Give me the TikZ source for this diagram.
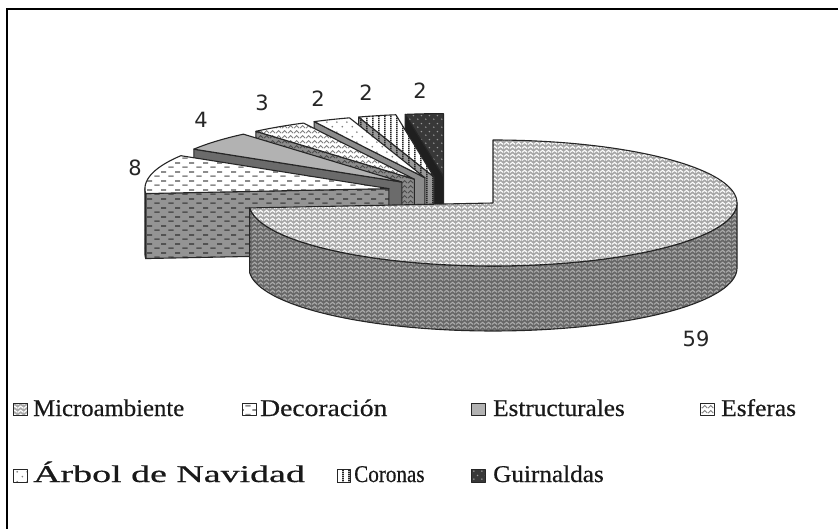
\documentclass[tikz,border=0pt]{standalone}
\usepackage{fontspec}
\setmainfont{Liberation Serif}
\newfontfamily\legfont[FakeBold=0.5]{Liberation Serif}
\newfontfamily\numfont{DejaVu Sans}
\usetikzlibrary{patterns}

\pgfdeclarepatternformonly{herring}{\pgfqpoint{0pt}{0pt}}{\pgfqpoint{6pt}{4pt}}{\pgfqpoint{6pt}{4pt}}{%
  \pgfsetlinewidth{1.3pt}%
  \pgfpathmoveto{\pgfqpoint{0pt}{0.7pt}}%
  \pgfpathlineto{\pgfqpoint{3pt}{3.3pt}}%
  \pgfpathlineto{\pgfqpoint{6pt}{0.7pt}}%
  \pgfusepath{stroke}}
\pgfdeclarepatternformonly{dashes}{\pgfqpoint{0pt}{0pt}}{\pgfqpoint{14pt}{9pt}}{\pgfqpoint{14pt}{9pt}}{%
  \pgfsetlinewidth{1.8pt}%
  \pgfpathmoveto{\pgfqpoint{0.5pt}{2pt}}\pgfpathlineto{\pgfqpoint{6pt}{2pt}}%
  \pgfpathmoveto{\pgfqpoint{7.5pt}{6.5pt}}\pgfpathlineto{\pgfqpoint{13pt}{6.5pt}}%
  \pgfusepath{stroke}}
\pgfdeclarepatternformonly{wave}{\pgfqpoint{0pt}{0pt}}{\pgfqpoint{6pt}{5pt}}{\pgfqpoint{6pt}{5pt}}{%
  \pgfsetlinewidth{1pt}%
  \pgfpathmoveto{\pgfqpoint{0pt}{1pt}}%
  \pgfpathlineto{\pgfqpoint{3pt}{4pt}}%
  \pgfpathlineto{\pgfqpoint{6pt}{1pt}}%
  \pgfusepath{stroke}}
\pgfdeclarepatternformonly{sdots}{\pgfqpoint{0pt}{0pt}}{\pgfqpoint{10pt}{10pt}}{\pgfqpoint{10pt}{10pt}}{%
  \pgfpathcircle{\pgfqpoint{2.5pt}{2.5pt}}{1pt}%
  \pgfpathcircle{\pgfqpoint{7.5pt}{7.5pt}}{1pt}%
  \pgfusepath{fill}}
\pgfdeclarepatternformonly{gdots}{\pgfqpoint{0pt}{0pt}}{\pgfqpoint{8pt}{8pt}}{\pgfqpoint{8pt}{8pt}}{%
  \pgfpathcircle{\pgfqpoint{2pt}{2pt}}{0.9pt}%
  \pgfpathcircle{\pgfqpoint{6pt}{6pt}}{0.9pt}%
  \pgfusepath{fill}}
\pgfdeclarepatternformonly{vstripes}{\pgfqpoint{0pt}{0pt}}{\pgfqpoint{6pt}{2pt}}{\pgfqpoint{6pt}{2pt}}{%
  \pgfpathrectangle{\pgfqpoint{0pt}{0pt}}{\pgfqpoint{2pt}{2pt}}%
  \pgfusepath{fill}}

\definecolor{mtopbg}{HTML}{A8A8A8}
\definecolor{msidebg}{HTML}{686868}
\definecolor{msideln}{HTML}{ABABAB}

\tikzset{
  edge/.style={draw=black!85, line width=1.1pt, line join=round},
  mtop/.style={edge, preaction={fill=mtopbg}, pattern=herring, pattern color=white},
  mside/.style={edge, preaction={fill=msidebg}, pattern=herring, pattern color=msideln},
  dtop/.style={edge, preaction={fill=white}, pattern=dashes, pattern color=black!45},
  dcut/.style={edge, preaction={fill=black!42}, pattern=dashes, pattern color=black!68},
  etop/.style={edge, fill=black!30},
  ecut/.style={edge, fill=black!58},
  ftop/.style={edge, preaction={fill=white}, pattern=wave, pattern color=black!50},
  fcut/.style={edge, preaction={fill=black!45}, pattern=wave, pattern color=black!70},
  atop/.style={edge, preaction={fill=white}, pattern=sdots, pattern color=black!50},
  acut/.style={edge, fill=black!45},
  ctop/.style={edge, preaction={fill=white}, pattern=vstripes, pattern color=black!85},
  ccut/.style={edge, preaction={fill=black!40}, pattern=vstripes, pattern color=black!85},
  gtop/.style={edge, preaction={fill=black!78}, pattern=gdots, pattern color=black!40},
  gcut/.style={edge, fill=black!88},
  numlab/.style={font=\numfont\fontsize{21}{21}\selectfont, inner sep=0pt, text=black!85},
  leglab/.style={font=\legfont\fontsize{24}{24}\selectfont, inner sep=0pt, anchor=base west, text=black!90},
  icon/.style={line width=0.9pt}
}

% small exploded slice: #1 start angle, #2 end angle, #3 top style, #4 cut style
\newcommand\smallslice[4]{%
  \pgfmathsetmacro\bis{(#1+#2)/2}%
  \pgfmathsetmacro\scx{448.25+61*cos(\bis)}%
  \pgfmathsetmacro\scy{192.3-15.75*sin(\bis)}%
  \pgfmathsetmacro\spx{\scx+244*cos(#2)}%
  \pgfmathsetmacro\spy{\scy-63*sin(#2)}%
  \path[#4] (\scx,\scy) -- (\spx,\spy) -- (\spx,\spy+65) -- (\scx,\scy+65) -- cycle;
  \path[#3] (\scx,\scy) -- plot[domain=#1:#2, samples=30] ({\scx+244*cos(\x)},{\scy-63*sin(\x)}) -- cycle;
}

\begin{document}
\begin{tikzpicture}[x=1pt, y=-1pt]
\useasboundingbox (0,0) rectangle (838,529);
\fill[white] (0,0) rectangle (838,529);
% frame (top and left edges)
\draw[line width=2.6pt, black] (7,540) -- (7,9) -- (850,9);

% slices, back to front
\smallslice{90}{99}{gtop}{gcut}
\smallslice{99}{108}{ctop}{ccut}
\smallslice{108}{117}{atop}{acut}
\smallslice{117}{130.5}{ftop}{fcut}
\smallslice{130.5}{148.5}{etop}{ecut}
% Decoracion: cut face, outer side, top
\pgfmathsetmacro\dcx{448.25+61*cos(166.5)}
\pgfmathsetmacro\dcy{192.3-15.75*sin(166.5)}
\pgfmathsetmacro\dpx{\dcx+244*cos(184.5)}
\pgfmathsetmacro\dpy{\dcy-63*sin(184.5)}
\path[dcut] (\dcx,\dcy) -- (\dpx,\dpy) -- (\dpx,\dpy+65) -- (\dcx,\dcy+65) -- cycle;
\path[dcut] plot[domain=180:184.5, samples=10] ({\dcx+244*cos(\x)},{\dcy-63*sin(\x)})
  -- plot[domain=184.5:180, samples=10] ({\dcx+244*cos(\x)},{\dcy+65-63*sin(\x)}) -- cycle;
\path[dtop] (\dcx,\dcy) -- plot[domain=148.5:184.5, samples=40] ({\dcx+244*cos(\x)},{\dcy-63*sin(\x)}) -- cycle;

% Microambiente (59), exploded towards the front right
\path[mside] plot[domain=-175.5:0, samples=90] ({493+244*cos(\x)},{203-63*sin(\x)})
  -- plot[domain=0:-175.5, samples=90] ({493+244*cos(\x)},{268-63*sin(\x)}) -- cycle;
\path[mtop] (493,203) -- plot[domain=-175.5:90, samples=120] ({493+244*cos(\x)},{203-63*sin(\x)}) -- cycle;

% value labels
\node[numlab] (v8) at (135,168) {8};
\node[numlab] (v4) at (201,120) {4};
\node[numlab] (v3) at (262,103) {3};
\node[numlab] (v2a) at (318,99) {2};
\node[numlab] (v2b) at (366,93) {2};
\node[numlab] (v2c) at (420,91) {2};
\node[numlab] (v59) at (696,339) {59};

% legend
\path[icon, draw=black!85, preaction={fill=mtopbg}, pattern=herring, pattern color=white] (13,403) rectangle (27,415);
\node[leglab] (lmicro) at (33,416) {\scalebox{1.03}[1]{Microambiente}};
\path[icon, dtop, line width=0.9pt] (242,403) rectangle (256,415);
\node[leglab] (ldeco) at (260,416) {\scalebox{1.15}[1]{Decoración}};
\path[icon, etop, line width=0.9pt] (471,403) rectangle (485,415);
\node[leglab] (lestr) at (493,416) {\scalebox{1.05}[1]{Estructurales}};
\path[icon, ftop, line width=0.9pt] (700,403) rectangle (714,415);
\node[leglab] (lesf) at (721,416) {\scalebox{1.06}[1]{Esferas}};
\path[icon, atop, line width=0.9pt] (13,469) rectangle (27,482);
\node[leglab] (larbol) at (33,482) {\scalebox{1.58}[1]{Árbol de Navidad}};
\path[icon, ctop, line width=0.9pt] (337,469) rectangle (350,482);
\node[leglab] (lcor) at (354,482) {\scalebox{0.88}[1]{Coronas}};
\path[icon, gtop, line width=0.9pt] (471,469) rectangle (485,482);
\node[leglab] (lguir) at (493,482) {\scalebox{1.05}[1]{Guirnaldas}};
\end{tikzpicture}
\end{document}
